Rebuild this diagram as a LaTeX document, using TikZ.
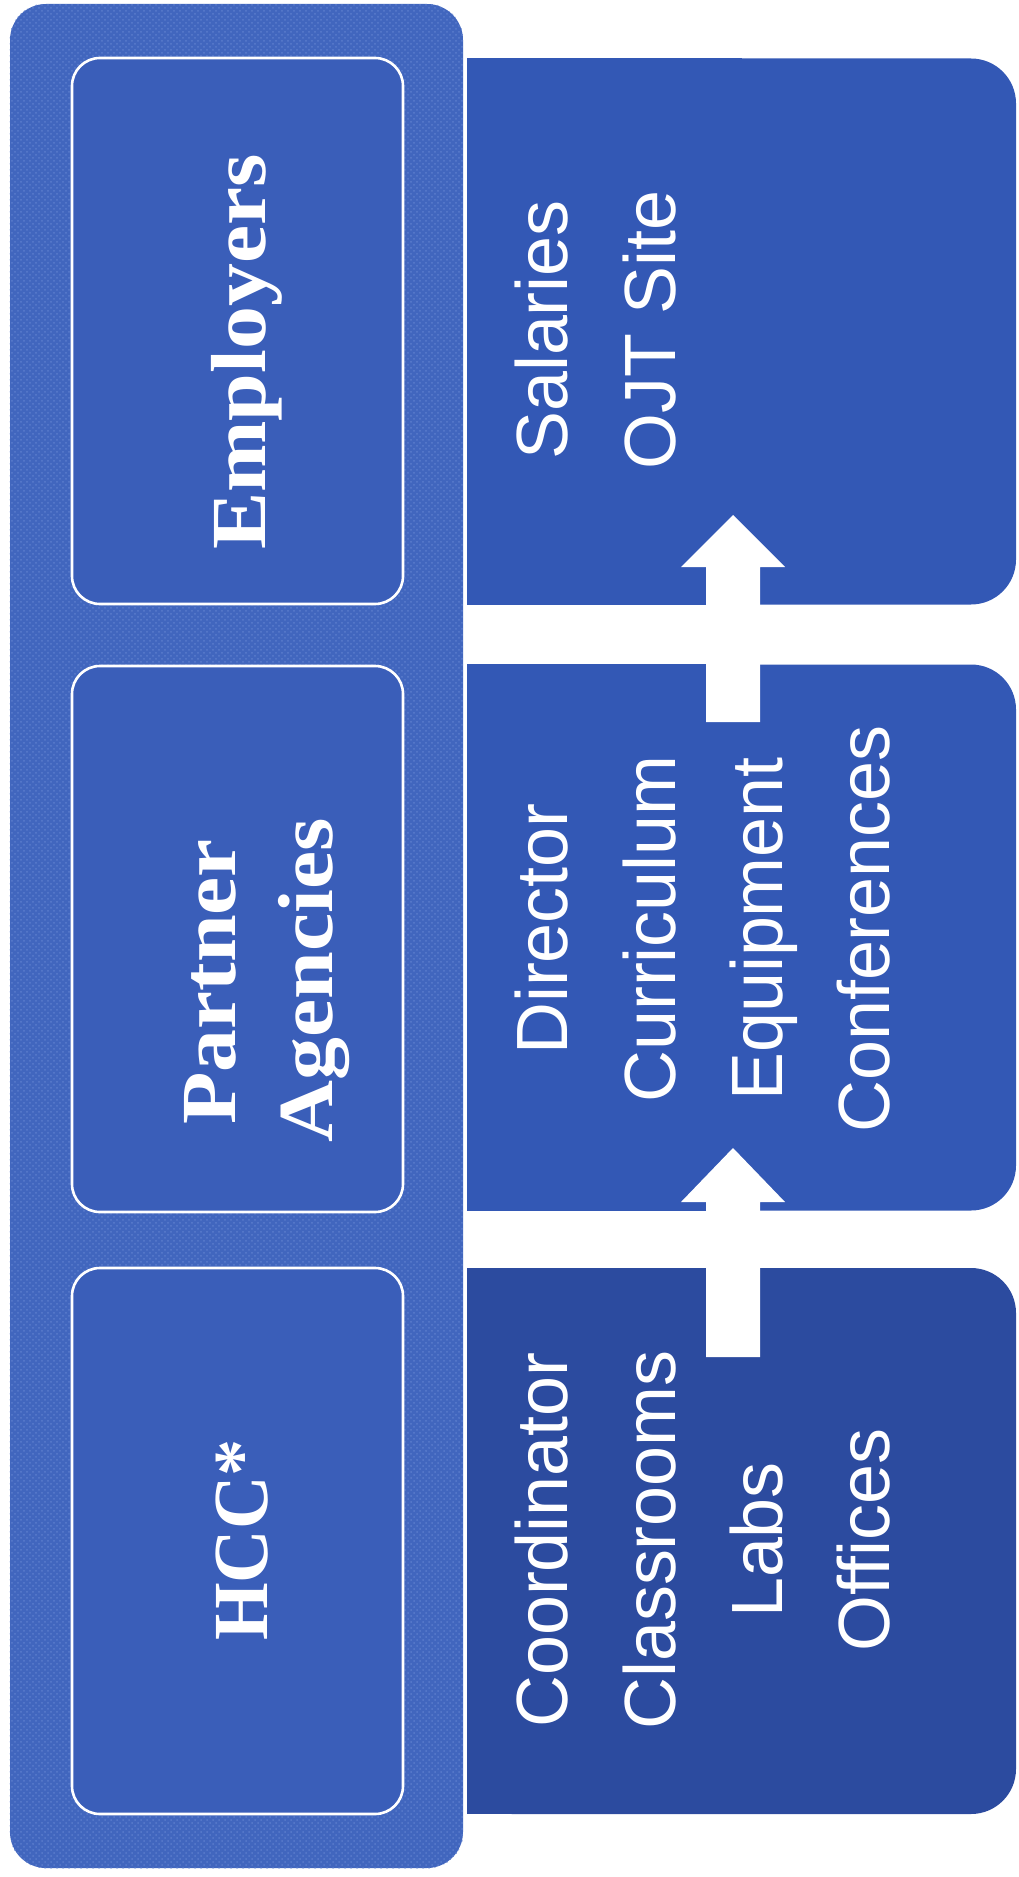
\documentclass[tikz,border=0pt]{standalone}
\usepackage{fontspec}
\setmainfont{Liberation Serif}
\newfontfamily\sansf{Liberation Sans}
\usetikzlibrary{patterns}
\definecolor{outerc}{HTML}{4166BE}
\definecolor{dotc}{HTML}{5A7CCC}
\definecolor{innerc}{HTML}{3A5EB9}
\definecolor{rightc}{HTML}{3358B5}
\definecolor{rightd}{HTML}{2C4B9F}
\newcommand\hdrstretch[2][1.1]{\scalebox{#1}[1]{#2}}
\newcommand\itemstretch[1]{\scalebox{0.99}[1]{#1}}
\begin{document}
\begin{tikzpicture}[x=0.5pt,y=-0.5pt,
  outerbox/.style={fill=outerc, rounded corners=18pt, minimum width=226.5pt, minimum height=932pt, inner sep=0pt},
  hdrbox/.style={draw=white, line width=1.3pt, fill=innerc, rounded corners=14pt, minimum width=165.5pt, minimum height=273pt, inner sep=0pt},
  itembox/.style={fill=#1, rounded corners=22.5pt, minimum width=274.5pt, minimum height=273pt, inner sep=0pt},
  hdrtxt/.style={rotate=90, anchor=base, text=white, font=\bfseries\fontsize{39pt}{47pt}\selectfont, inner sep=0pt},
  itemtxt/.style={rotate=90, anchor=base, text=white, font=\sansf\fontsize{36.3pt}{43pt}\selectfont, inner sep=0pt},
  blockarrow/.style={fill=white}
]
\useasboundingbox (0,0) rectangle (1018,1877);
% outer container
\node[outerbox] (outer) at (236.5,936) {};
\path[pattern=crosshatch dots, pattern color=dotc, rounded corners=18pt] (outer.north west) rectangle (outer.south east);
% header boxes
\node[hdrbox] (empbox) at (237.5,331) {};
\node[hdrbox] (parbox) at (237.5,939) {};
\node[hdrbox] (hccbox) at (237.5,1541) {};
% right boxes
\node[itembox=rightc] (r1) at (741.5,331.5) {};
\fill[rightc] (r1.north west) rectangle (r1.south);
\node[itembox=rightc] (r2) at (741.5,937.5) {};
\fill[rightc] (r2.north west) rectangle (r2.south);
\node[itembox=rightd] (r3) at (741.5,1541) {};
\fill[rightd] (r3.north west) rectangle (r3.south);
% block arrows
\fill[blockarrow] (706,1357) -- (706,1202) -- (681,1202) -- (733,1148) -- (785,1202) -- (760,1202) -- (760,1357) -- cycle;
\fill[blockarrow] (706,722) -- (706,567) -- (681,567) -- (733,515) -- (785,567) -- (760,567) -- (760,722) -- cycle;
% header texts
\node[hdrtxt] (emp) at (265,352) {\hdrstretch{Employers}};
\node[hdrtxt] (par1) at (235,982) {\hdrstretch{Partner}};
\node[hdrtxt] (par2) at (332,980) {\hdrstretch{Agencies}};
\node[hdrtxt] (hcc) at (267,1540) {\hdrstretch[0.95]{HCC*}};
% item texts
\node[itemtxt] (s1) at (567,330) {\itemstretch{Salaries}};
\node[itemtxt] (s2) at (675,330) {\itemstretch{OJT Site}};
\node[itemtxt] (d1) at (567,929) {\itemstretch{Director}};
\node[itemtxt] (d2) at (675,929) {\itemstretch{Curriculum}};
\node[itemtxt] (d3) at (782,929) {\itemstretch{Equipment}};
\node[itemtxt] (d4) at (889,929) {\itemstretch{Conferences}};
\node[itemtxt] (c1) at (567,1540) {\itemstretch{Coordinator}};
\node[itemtxt] (c2) at (675,1540) {\itemstretch{Classrooms}};
\node[itemtxt] (c3) at (782,1540) {\itemstretch{Labs}};
\node[itemtxt] (c4) at (889,1540) {\itemstretch{Offices}};
\end{tikzpicture}
\end{document}
